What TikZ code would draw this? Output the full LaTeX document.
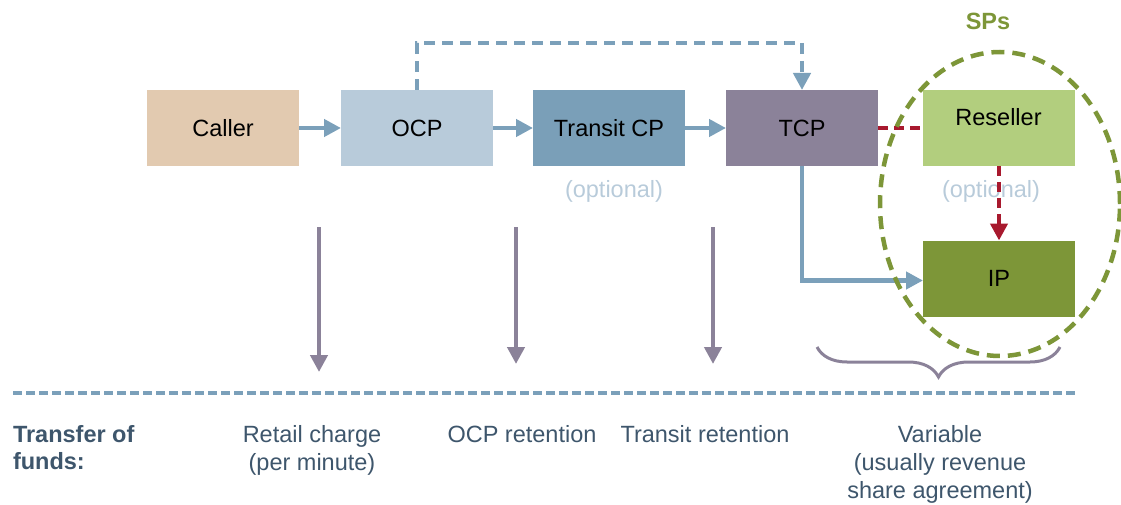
\documentclass[tikz,border=0pt]{standalone}
\usepackage{fontspec}
\setmainfont{Liberation Sans}
\usetikzlibrary{arrows.meta,decorations.pathreplacing,shapes.geometric}

\definecolor{callerfill}{HTML}{E2CAB0}
\definecolor{ocpfill}{HTML}{B8CBDA}
\definecolor{transitfill}{HTML}{7A9FB8}
\definecolor{tcpfill}{HTML}{8B8299}
\definecolor{resellerfill}{HTML}{B2CE7E}
\definecolor{ipfill}{HTML}{7D9638}
\definecolor{flowblue}{HTML}{7BA0BA}
\definecolor{resred}{HTML}{A8192E}
\definecolor{spgreen}{HTML}{7D9638}
\definecolor{fundpurple}{HTML}{8B8299}
\definecolor{fundtext}{HTML}{3E566C}
\definecolor{opttext}{HTML}{B8CBDA}

\begin{document}
\begin{tikzpicture}[x=1pt,y=-1pt,
  txt/.style={inner sep=0pt,outer sep=0pt,font=\fontsize{23.5}{28}\selectfont},
  box/.style={txt,minimum width=152pt,minimum height=76pt},
  tip/.style={-{Triangle[width=17pt,length=17pt]}},
  flow/.style={draw=flowblue,line width=4.5pt,tip},
  flowdash/.style={draw=flowblue,line width=4.5pt,dash pattern=on 11pt off 7pt,tip},
  resdash/.style={draw=resred,line width=4.5pt,dash pattern=on 10pt off 6pt},
  fund/.style={draw=fundpurple,line width=4.5pt,tip},
  fundtxt/.style={txt,text=fundtext,align=center,anchor=north},
  opt/.style={txt,text=opttext}]
\useasboundingbox (0,0) rectangle (1121,505);

% chain of carriers
\node[box,fill=callerfill]   (caller)   at (223,128)   {Caller};
\node[box,fill=ocpfill]      (ocp)      at (417,128)   {OCP};
\node[box,fill=transitfill]  (transit)  at (609,128)   {Transit CP};
\node[box,fill=tcpfill]      (tcp)      at (802,128)   {TCP};
\node[box,fill=resellerfill] (reseller) at (998.5,128) {};
\node[txt] (resellerlbl) at ([yshift=11pt]reseller.center) {Reseller};
\node[box,fill=ipfill]       (ip)       at (999,278.5) {IP};

\node[opt] (opt1) at (614,191) {(optional)};
\node[opt] (opt2) at (991,191) {(optional)};

% call routing
\draw[flow] (caller.east) -- (ocp.west);
\draw[flow] (ocp.east) -- (transit.west);
\draw[flow] (transit.east) -- (tcp.west);
\coordinate (toprow) at (0,43);
\draw[flowdash] (ocp.north) -- (ocp.north |- toprow) -| (tcp.north);
\draw[flow] (tcp.south) |- ([yshift=-2pt]ip.west);
\draw[resdash] (tcp.east) -- (reseller.west);
\draw[resdash,tip] (reseller.south -| ip.north) -- (ip.north);

% service providers group
\node[draw=spgreen,line width=4.5pt,dash pattern=on 13pt off 8pt,ellipse,
      minimum width=240pt,minimum height=304pt,inner sep=0pt] (sps) at (1000,204) {};
\node[txt,font=\fontsize{23.5}{28}\selectfont\bfseries,text=spgreen] (spslbl) at (988,21) {SPs};

% transfer of funds
\coordinate (f1a) at (319,227); \coordinate (f1b) at (319,372);
\coordinate (f2a) at (516,227); \coordinate (f2b) at (516,364);
\coordinate (f3a) at (713,227); \coordinate (f3b) at (713,364);
\draw[fund] (f1a) -- (f1b);
\draw[fund] (f2a) -- (f2b);
\draw[fund] (f3a) -- (f3b);

\coordinate (bl) at (817,347); \coordinate (br) at (1060,347);
\draw[draw=fundpurple,line width=3pt,decorate,decoration={brace,mirror,amplitude=30pt}] (bl) -- (br);

\coordinate (sepl) at (13,393); \coordinate (sepr) at (1075,393);
\draw[draw=flowblue,line width=4.5pt,dash pattern=on 9pt off 4pt] (sepl) -- (sepr);

\node[txt,text=fundtext,font=\fontsize{23.5}{27}\selectfont\bfseries,align=left,anchor=north west] (tf) at (13,425) {Transfer of\\funds:};
\node[fundtxt] (retail)  at (312,425) {Retail charge\\(per minute)};
\node[fundtxt] (ocpret)  at (522,425) {OCP retention};
\node[fundtxt] (transret) at (705,425) {Transit retention};
\node[fundtxt] (variable) at (940,425) {Variable\\(usually revenue\\share agreement)};
\end{tikzpicture}
\end{document}
